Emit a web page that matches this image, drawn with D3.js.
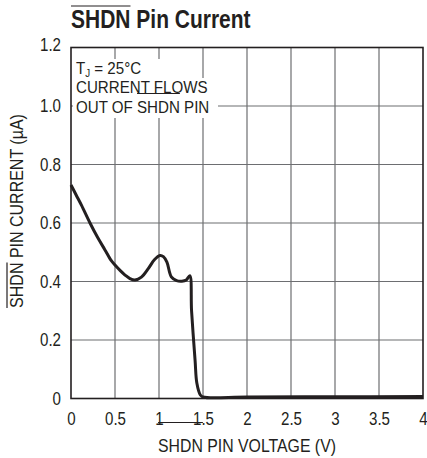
<!DOCTYPE html>
<html><head><meta charset="utf-8">
<script src="https://cdn.jsdelivr.net/npm/d3@7"></script>
<style>
html,body{margin:0;padding:0;background:#fff;}
svg{display:block;}
text{font-family:"Liberation Sans",Arial,sans-serif;fill:#231f20;}
</style></head>
<body>
<script>
const voltage = [0, 0.06, 0.12, 0.216, 0.3, 0.386, 0.456, 0.5, 0.56, 0.614, 0.67, 0.727, 0.8, 0.88, 0.95, 1.01, 1.05, 1.09, 1.14, 1.2, 1.26, 1.31, 1.35, 1.37, 1.41, 1.43, 1.47, 1.5, 2, 3, 4];
const current = [0.73, 0.695, 0.66, 0.60, 0.552, 0.508, 0.472, 0.456, 0.437, 0.422, 0.41, 0.405, 0.415, 0.445, 0.475, 0.489, 0.485, 0.466, 0.416, 0.403, 0.401, 0.405, 0.42, 0.30, 0.13, 0.053, 0.012, 0.005, 0.005, 0.006, 0.007];
const xTicks = [0, 0.5, 1, 1.5, 2, 2.5, 3, 3.5, 4];
const xTickLabels = ["0", "0.5", "1", "1.5", "2", "2.5", "3", "3.5", "4"];
const yTicks = [0, 0.2, 0.4, 0.6, 0.8, 1.0, 1.2];
const yTickLabels = ["0", "0.2", "0.4", "0.6", "0.8", "1.0", "1.2"];

const W = 427, H = 458;
const m = {left: 71, right: 4, top: 47.5, bottom: 59.5};
const SX = 0.84; // horizontal condensing of text
const INK = "#231f20";
const svg = d3.select("body").append("svg").attr("width", W).attr("height", H);

const x = d3.scaleLinear().domain([0, 4]).range([m.left, W - m.right]);
const y = d3.scaleLinear().domain([0, 1.2]).range([H - m.bottom, m.top]);

// helper: condensed text, returns text selection
function ctext(parent, px, py, str, size, anchor, rot, sx) {
  sx = sx || SX;
  const g = parent.append("g").attr("transform", `translate(${px},${py})` + (rot ? ` rotate(${rot})` : "") + ` scale(${sx},1)`);
  const t = g.append("text").attr("font-size", size).attr("text-anchor", anchor || "start").text(str);
  t.node().__sx = sx;
  return t;
}
// overline over substring [a,b) of a text made by ctext (horizontal or rotated)
function overline(t, a, b, offset, rot, px, py, anchor) {
  const node = t.node();
  const sx = node.__sx;
  const total = node.getComputedTextLength();
  const start = node.getSubStringLength(0, a);
  const len = node.getSubStringLength(a, b - a);
  let shift = 0;
  if (anchor === "middle") shift = -total / 2;
  if (anchor === "end") shift = -total;
  const u0 = (shift + start) * sx, u1 = (shift + start + len) * sx;
  const g = d3.select(node.parentNode.parentNode);
  const l = g.append("line").attr("stroke", INK).attr("stroke-width", 1.2);
  if (!rot) {
    l.attr("x1", px + u0).attr("x2", px + u1).attr("y1", py - offset).attr("y2", py - offset);
  } else {
    l.attr("x1", px - offset).attr("x2", px - offset).attr("y1", py - u0).attr("y2", py - u1);
  }
}

// grid
const grid = svg.append("g");
grid.selectAll("line.v").data(xTicks.slice(1, -1)).enter().append("line")
  .attr("x1", d => x(d)).attr("x2", d => x(d)).attr("y1", y(1.2)).attr("y2", y(0))
  .attr("stroke", "#6d6e71").attr("stroke-width", 1.2);
grid.selectAll("line.h").data(yTicks.slice(1, -1)).enter().append("line")
  .attr("x1", x(0)).attr("x2", x(4)).attr("y1", d => y(d)).attr("y2", d => y(d))
  .attr("stroke", "#6d6e71").attr("stroke-width", 1.2);

// annotation knockout
const ann = svg.append("g");
const annLines = [
  {w: 120, top: 59, bot: 78},
  {w: 133, top: 78, bot: 97},
  {w: 145, top: 97, bot: 118}
];
ann.selectAll("rect").data(annLines).enter().append("rect")
  .attr("x", x(0) + 2).attr("y", d => d.top).attr("width", d => d.w).attr("height", d => d.bot - d.top)
  .attr("fill", "#fff");
ann.append("rect").attr("x", x(0) + 2).attr("y", y(1.2) + 2).attr("width", 40).attr("height", 58).attr("fill", "#fff");
ann.append("rect").attr("x", x(0.5) + 3).attr("y", y(1.2) + 2).attr("width", 40).attr("height", 58).attr("fill", "#fff");
ann.append("rect").attr("x", x(1) + 3).attr("y", y(1.2) + 2).attr("width", 40).attr("height", 58).attr("fill", "#fff");

// frame
svg.append("rect").attr("x", x(0)).attr("y", y(1.2)).attr("width", x(4) - x(0)).attr("height", y(0) - y(1.2))
  .attr("fill", "none").attr("stroke", INK).attr("stroke-width", 1.6);

// axes (library axes for tick placement; labels condensed)
const xAxis = d3.axisBottom(x).tickValues(xTicks).tickFormat((d, i) => xTickLabels[i]).tickSize(0).tickPadding(14);
const gx = svg.append("g").attr("transform", `translate(0,${y(0)})`).call(xAxis);
gx.select(".domain").remove();
gx.selectAll("text").attr("font-size", 18).attr("fill", INK)
  .attr("font-family", "'Liberation Sans',Arial,sans-serif").attr("transform", `scale(${SX},1)`)
  .attr("dy", "0.71em");

const yAxis = d3.axisLeft(y).tickValues(yTicks).tickFormat((d, i) => yTickLabels[i]).tickSize(0).tickPadding(10);
const gy = svg.append("g").attr("transform", `translate(${x(0)},0)`).call(yAxis);
gy.select(".domain").remove();
gy.selectAll("text").attr("font-size", 18).attr("fill", INK)
  .attr("font-family", "'Liberation Sans',Arial,sans-serif")
  .attr("transform", `scale(${SX},1)`).attr("x", -10 / SX);
gy.selectAll(".tick").filter(d => d === 1.2).select("text").attr("dy", "0.15em");

// curve
const pts = voltage.map((v, i) => [v, current[i]]);
const line = d3.line().x(d => x(d[0])).y(d => y(d[1])).curve(d3.curveCatmullRom.alpha(0.5));
svg.append("path").datum(pts).attr("d", line).attr("fill", "none")
  .attr("stroke", INK).attr("stroke-width", 3).attr("stroke-linejoin", "round");

// annotation text
const at = svg.append("g");
const ASX = 0.89;
const t1 = ctext(at, 76, 73.5, "", 17, "start", 0, ASX);
t1.append("tspan").text("T");
t1.append("tspan").text("J").attr("font-size", 11).attr("dy", 3);
t1.append("tspan").text(" = 25°C").attr("dy", -3);
ctext(at, 76, 92.5, "CURRENT FLOWS", 17, "start", 0, ASX);
const t3 = ctext(at, 76, 112.5, "OUT OF SHDN PIN", 17, "start", 0, ASX);
overline(t3, 7, 11, 19, 0, 76, 112.5, "start");

// title
const title = ctext(svg, 71, 28, "SHDN Pin Current", 25);
title.attr("font-weight", "bold");
overline(title, 0, 4, 22, 0, 71, 28, "start");

// x label
const xlx = (x(0) + x(4)) / 2;
const xl = ctext(svg, xlx, 452, "SHDN PIN VOLTAGE (V)", 18, "middle", 0, 0.88);
overline(xl, 0, 4, 29.5, 0, xlx, 452, "middle");

// y label
const yl = ctext(svg, 23, 211, "SHDN PIN CURRENT (µA)", 18, "middle", -90, 0.89);
overline(yl, 0, 4, 16, -90, 23, 211, "middle");
</script>
</body></html>
